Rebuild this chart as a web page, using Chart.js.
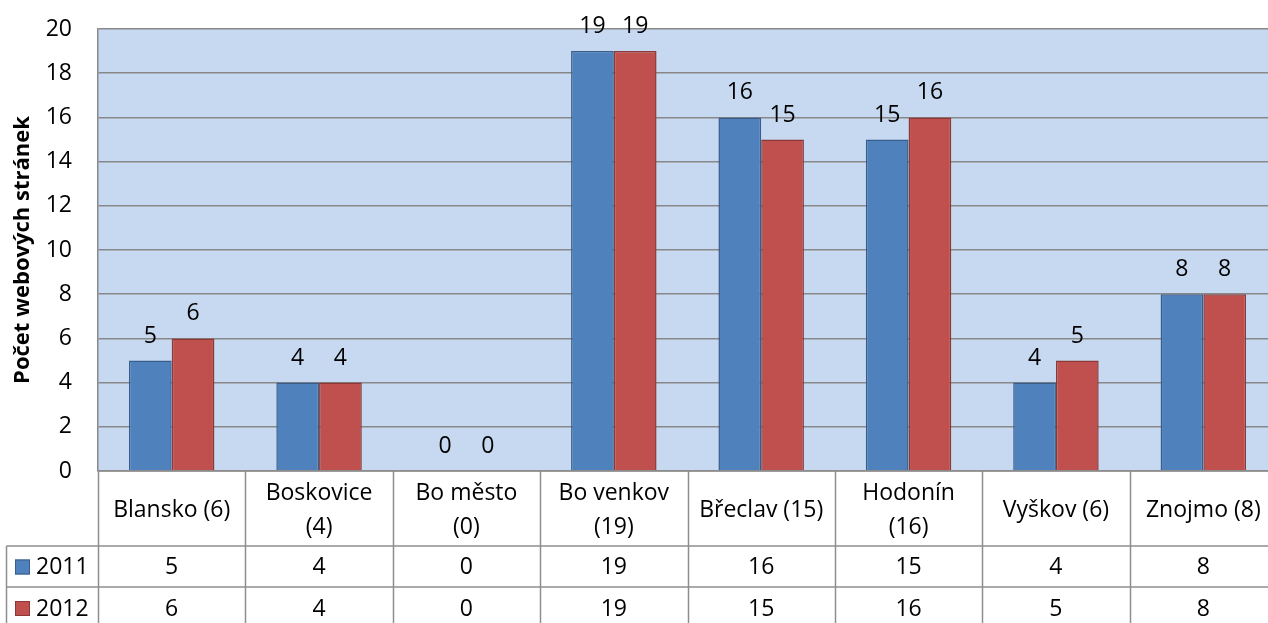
<!DOCTYPE html>
<html>
<head>
<meta charset="utf-8">
<script src="https://cdn.jsdelivr.net/npm/chart.js@4.4.1/dist/chart.umd.min.js"></script>
<style>
    html, body { margin: 0; padding: 0; background: #fff; overflow: hidden; }
    #wrap { width: 1268px; height: 623px; overflow: hidden; }
</style>
</head>
<body>
<div id="wrap"><canvas id="chart" width="1280" height="623"></canvas></div>
<script>
// Chart data
const categories = [
    ['Blansko (6)'],
    ['Boskovice', '(4)'],
    ['Bo město', '(0)'],
    ['Bo venkov', '(19)'],
    ['Břeclav (15)'],
    ['Hodonín', '(16)'],
    ['Vyškov (6)'],
    ['Znojmo (8)']
];
const seriesNames = ['2011', '2012'];
const values2011 = [5, 4, 0, 19, 16, 15, 4, 8];
const values2012 = [6, 4, 0, 19, 15, 16, 5, 8];
const yMin = 0;
const yMax = 20;
const yStep = 2;
const yTitle = 'Počet webových stránek';

const FONT = '"Open Sans", sans-serif';
const TEXT_SIZE = 23;
const fillColors = ['#4F81BD', '#C0504D'];
const edgeColors = ['#385D8A', '#8C3836'];
const gridColor = '#888888';

// Plot background
const plotBackground = {
    id: 'plotBackground',
    beforeDraw(chart) {
        const { ctx, chartArea: a } = chart;
        ctx.save();
        ctx.fillStyle = '#C6D9F1';
        ctx.fillRect(a.left, a.top, a.right - a.left, a.bottom - a.top);
        ctx.restore();
    }
};

// Value labels above bars
const barLabels = {
    id: 'barLabels',
    afterDatasetsDraw(chart) {
        const { ctx } = chart;
        ctx.save();
        ctx.font = TEXT_SIZE + 'px ' + FONT;
        ctx.fillStyle = '#000';
        ctx.textAlign = 'center';
        ctx.textBaseline = 'alphabetic';
        chart.data.datasets.forEach((ds, di) => {
            chart.getDatasetMeta(di).data.forEach((bar, i) => {
                ctx.fillText(String(ds.data[i]), bar.x, bar.y - 18);
            });
        });
        ctx.restore();
    }
};

// Data table under the plot
const dataTable = {
    id: 'dataTable',
    afterDraw(chart) {
        const { ctx, chartArea: a, scales } = chart;
        const x = scales.x;
        const n = categories.length;
        const cw = (a.right - a.left) / n;
        const y0 = a.bottom;
        const y1 = 546;
        const y2 = 587;
        const yEnd = 640;
        const left = 6.5;

        ctx.save();
        ctx.strokeStyle = '#8E8E8E';
        ctx.lineWidth = 1.5;
        ctx.beginPath();
        for (let i = 0; i <= n; i++) {
            const bx = Math.round(a.left + i * cw) + 0.5;
            ctx.moveTo(bx, y0);
            ctx.lineTo(bx, yEnd);
        }
        ctx.moveTo(a.left, y0);
        ctx.lineTo(a.right, y0);
        ctx.moveTo(left, y1);
        ctx.lineTo(a.right, y1);
        ctx.moveTo(left, y2);
        ctx.lineTo(a.right, y2);
        ctx.moveTo(left, y1);
        ctx.lineTo(left, yEnd);
        ctx.stroke();

        ctx.font = TEXT_SIZE + 'px ' + FONT;
        ctx.fillStyle = '#000';
        ctx.textAlign = 'center';
        ctx.textBaseline = 'middle';

        // header row
        const headMid = (y0 + y1) / 2;
        categories.forEach((lines, i) => {
            const cx = x.getPixelForValue(i);
            const lh = 34;
            const start = headMid - (lines.length - 1) * lh / 2;
            lines.forEach((t, k) => ctx.fillText(t, cx, start + k * lh + 2));
        });

        // series rows
        const rows = [[values2011, y1, y2], [values2012, y2, 629]];
        rows.forEach(([vals, ta, tb], r) => {
            const mid = (ta + tb) / 2;
            vals.forEach((v, i) => {
                ctx.fillText(String(v), x.getPixelForValue(i), mid + 1);
            });
            ctx.fillStyle = fillColors[r];
            ctx.fillRect(15, mid - 7, 15, 15);
            ctx.strokeStyle = edgeColors[r];
            ctx.lineWidth = 1;
            ctx.strokeRect(15.5, mid - 6.5, 14, 14);
            ctx.fillStyle = '#000';
            ctx.textAlign = 'left';
            ctx.fillText(seriesNames[r], 36, mid + 1);
            ctx.textAlign = 'center';
        });
        ctx.restore();
    }
};

const borderFor = ctx => (ctx.raw === 0 ? 0 : 1.5);

new Chart(document.getElementById('chart'), {
    type: 'bar',
    data: {
        labels: categories,
        datasets: [
            {
                label: seriesNames[0],
                data: values2011,
                backgroundColor: fillColors[0],
                borderColor: edgeColors[0],
                borderWidth: borderFor,
                categoryPercentage: 0.58,
                barPercentage: 1
            },
            {
                label: seriesNames[1],
                data: values2012,
                backgroundColor: fillColors[1],
                borderColor: edgeColors[1],
                borderWidth: borderFor,
                categoryPercentage: 0.58,
                barPercentage: 1
            }
        ]
    },
    options: {
        responsive: false,
        devicePixelRatio: 1,
        animation: false,
        layout: { padding: { top: 29, right: 3, bottom: 152, left: 0 } },
        plugins: {
            legend: { display: false },
            tooltip: { enabled: false }
        },
        scales: {
            x: {
                display: false
            },
            y: {
                min: yMin,
                max: yMax,
                afterFit(scale) {
                    scale.width = 98;
                    scale.paddingTop = 0;
                    scale.paddingBottom = 0;
                },
                ticks: {
                    stepSize: yStep,
                    padding: 26,
                    color: '#000',
                    font: { family: FONT, size: TEXT_SIZE }
                },
                grid: {
                    color: gridColor,
                    lineWidth: 1.5,
                    drawTicks: false
                },
                border: { display: true, color: gridColor, width: 1.5 },
                title: {
                    display: true,
                    text: yTitle,
                    color: '#000',
                    font: { family: FONT, size: 22, weight: 'bold' },
                    padding: { top: 10, bottom: 0 }
                }
            }
        }
    },
    plugins: [plotBackground, barLabels, dataTable]
});
</script>
</body>
</html>
